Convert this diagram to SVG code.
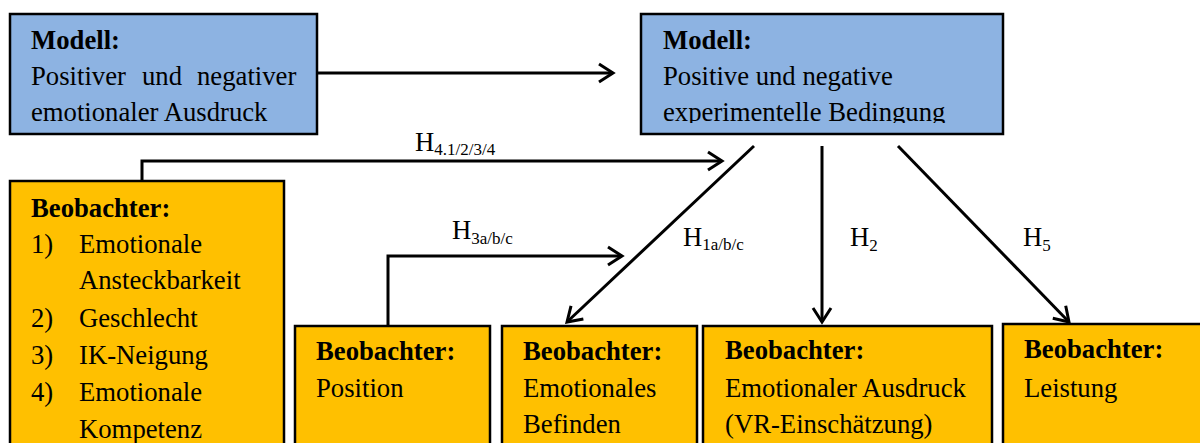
<svg xmlns="http://www.w3.org/2000/svg" width="1200" height="443" viewBox="0 0 1200 443" font-family="Liberation Serif, Times New Roman, serif" font-size="26.7">
<style>
text{font-family:"Liberation Serif","Times New Roman",serif;font-size:26.7px;fill:#000}
.b{font-weight:bold}
.blue{fill:#8DB3E2;stroke:#000;stroke-width:2.5}
.org{fill:#FFC000;stroke:#000;stroke-width:2.5}
.con{fill:none;stroke:#000;stroke-width:3}
.sub{font-size:17px}
</style>
<defs>
<marker id="arr" markerUnits="userSpaceOnUse" markerWidth="20" markerHeight="24" refX="16" refY="12" orient="auto" overflow="visible">
<path d="M2,3 L16,12 L2,21" fill="none" stroke="#000" stroke-width="3"/>
</marker>
<clipPath id="clip2"><rect x="641" y="13" width="362" height="110"/></clipPath>
</defs>
<g id="model1">
<rect class="blue" x="10" y="14" width="307" height="120"/>
<text class="b" x="31" y="49">Modell:</text>
<text x="31" y="85">Positiver</text>
<text x="142" y="85">und</text>
<text x="197" y="85">negativer</text>
<text x="31" y="121">emotionaler Ausdruck</text>
</g>
<g id="model2">
<rect class="blue" x="641" y="14" width="362" height="120"/>
<g clip-path="url(#clip2)">
<text class="b" x="663" y="49">Modell:</text>
<text x="663" y="85">Positive und negative</text>
<text x="663" y="121">experimentelle Bedingung</text>
</g>
</g>
<g id="obs-traits">
<rect class="org" x="10" y="181" width="274" height="280"/>
<text class="b" x="31" y="217">Beobachter:</text>
<text x="31" y="253">1)</text><text x="79" y="253">Emotionale</text>
<text x="79" y="289">Ansteckbarkeit</text>
<text x="31" y="327">2)</text><text x="79" y="327">Geschlecht</text>
<text x="31" y="364">3)</text><text x="79" y="364">IK-Neigung</text>
<text x="31" y="401">4)</text><text x="79" y="401">Emotionale</text>
<text x="79" y="438">Kompetenz</text>
</g>
<g id="obs-position">
<rect class="org" x="295" y="326" width="195" height="140"/>
<text class="b" x="316" y="360">Beobachter:</text>
<text x="316" y="397">Position</text>
</g>
<g id="obs-befinden">
<rect class="org" x="502" y="326" width="195" height="140"/>
<text class="b" x="523" y="360">Beobachter:</text>
<text x="523" y="397">Emotionales</text>
<text x="523" y="433">Befinden</text>
</g>
<g id="obs-ausdruck">
<rect class="org" x="703" y="326" width="289" height="140"/>
<text class="b" x="725" y="359">Beobachter:</text>
<text x="725" y="397">Emotionaler Ausdruck</text>
<text x="725" y="433">(VR-Einschätzung)</text>
</g>
<g id="obs-leistung">
<rect class="org" x="1003" y="324" width="220" height="140"/>
<text class="b" x="1024" y="358">Beobachter:</text>
<text x="1024" y="397">Leistung</text>
</g>
<g id="connectors">
<path class="con" d="M317,73 H613" marker-end="url(#arr)"/>
<path class="con" d="M142,181 V161 H722" marker-end="url(#arr)"/>
<path class="con" d="M388,326 V256 H622" marker-end="url(#arr)"/>
<path class="con" d="M754,146 L567,322" marker-end="url(#arr)"/>
<path class="con" d="M822,146 V322" marker-end="url(#arr)"/>
<path class="con" d="M898,146 L1069,322" marker-end="url(#arr)"/>
<text x="415" y="151">H<tspan class="sub" dy="4">4.1/2/3/4</tspan></text>
<text x="452" y="239">H<tspan class="sub" dy="5">3a/b/c</tspan></text>
<text x="683" y="246">H<tspan class="sub" dy="4">1a/b/c</tspan></text>
<text x="850" y="246">H<tspan class="sub" dy="5">2</tspan></text>
<text x="1023" y="246">H<tspan class="sub" dy="5">5</tspan></text>
</g>
</svg>
